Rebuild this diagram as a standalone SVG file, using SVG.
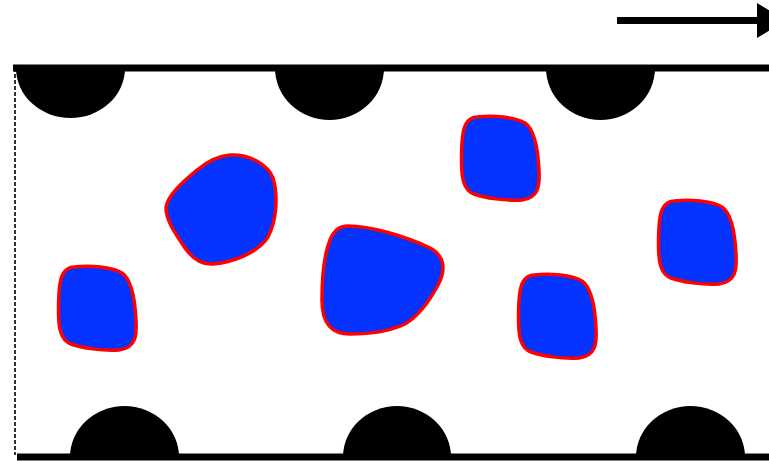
<svg xmlns="http://www.w3.org/2000/svg" xmlns:xlink="http://www.w3.org/1999/xlink" width="769" height="461" viewBox="0 0 769 461">
  <defs>
    <style>
      .wall { stroke: #000; stroke-width: 7; fill: none; }
      .bump { fill: #000; stroke: none; }
      .cell { fill: #0433ff; stroke: #ff0000; stroke-width: 3.5; stroke-linejoin: round; }
      .edge { stroke: #000; stroke-width: 1.6; stroke-dasharray: 4 2; fill: none; }
    </style>
    <!-- rounded-square particle shape, local origin at its top-left -->
    <path id="particle" class="cell" d="M 17,2 C 34,0 54,2 65,8 C 75,15 78,35 79,55 C 80,72 78,83 62,85 C 45,86 25,83 14,79 C 3,75 1.5,62 1.5,45 C 1.5,28 2,15 6,9 C 9,4 12,2 17,2 Z"/>
  </defs>

  <rect width="769" height="461" fill="#fff"/>

  <!-- flow direction arrow -->
  <g id="flow-arrow">
    <line x1="617" y1="20.5" x2="759" y2="20.5" stroke="#000" stroke-width="7"/>
    <polygon points="757,3 757,38 786,20.5" fill="#000"/>
  </g>

  <!-- channel walls with half-disc obstacles -->
  <g id="top-wall">
    <line class="wall" x1="13" y1="68" x2="769" y2="68"/>
    <path class="bump" d="M 16,68 A 54.5 50 0 0 0 125,68 Z"/>
    <path class="bump" d="M 275,68 A 54.5 52 0 0 0 384,68 Z"/>
    <path class="bump" d="M 546,68 A 54.5 52 0 0 0 655,68 Z"/>
  </g>
  <g id="bottom-wall">
    <line class="wall" x1="17" y1="457" x2="769" y2="457"/>
    <path class="bump" d="M 70,457 A 54.5 51 0 0 1 179,457 Z"/>
    <path class="bump" d="M 343,457 A 54 51 0 0 1 451,457 Z"/>
    <path class="bump" d="M 636,457 A 54.5 51 0 0 1 745,457 Z"/>
  </g>

  <!-- inlet boundary -->
  <line id="inlet" class="edge" x1="15" y1="68" x2="15" y2="455"/>

  <!-- suspended particles -->
  <g id="particles">
    <use id="particle-1" xlink:href="#particle" href="#particle" x="57" y="265"/>
    <path id="particle-2" class="cell" d="M 230,155 C 250,154 268,165 273,178 C 278,195 277,220 268,237 C 258,252 235,262 213,264 C 200,265 190,256 183,245 C 175,233 166,220 166,208 C 167,195 185,180 197,170 C 208,161 218,156 230,155 Z"/>
    <path id="particle-3" class="cell" d="M 348,226 C 370,226 405,236 430,248 C 445,256 446,270 438,285 C 430,300 420,315 405,324 C 390,331 370,334 350,334 C 330,334 322,322 322,300 C 322,280 324,255 330,240 C 334,230 340,226 348,226 Z"/>
    <use id="particle-4" xlink:href="#particle" href="#particle" x="460" y="115"/>
    <use id="particle-5" xlink:href="#particle" href="#particle" x="657" y="199"/>
    <use id="particle-6" xlink:href="#particle" href="#particle" x="517" y="273"/>
  </g>
</svg>
